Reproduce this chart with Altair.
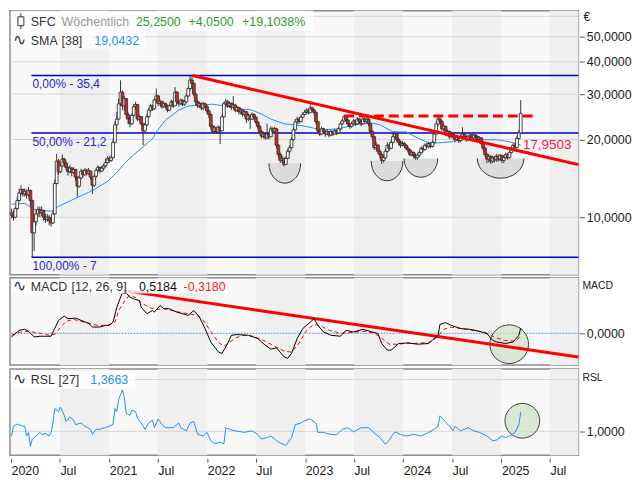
import altair as alt
import pandas as pd

FONT = "Liberation Sans"
W, HP, HM, HR = 573, 266, 88, 87

# ---------------- data ----------------
week0 = "2020-01-03"
first_open = 10.2
closes = [
    # 2020
    10.4, 10.0, 10.8, 11.6, 12.4, 12.8, 12.3, 12.6, 12.2, 12.7,
    11.6, 8.7, 9.6, 10.3, 10.7, 10.4, 10.6, 10.0, 9.8, 10.0,
    9.7, 9.5, 10.3, 13.5, 16.5, 15.0, 15.8, 16.8, 16.2, 15.6,
    15.0, 15.5, 14.9, 15.3, 14.3, 13.2, 14.2, 15.1, 14.6, 15.2,
    14.8, 15.1, 14.3, 13.3, 14.4, 15.2, 15.6, 15.1, 15.5, 15.8,
    16.3, 16.9,
    # 2021
    16.6, 17.0, 19.5, 22.8, 24.0, 27.5, 30.5, 27.0, 28.8, 25.0,
    24.0, 23.0, 24.8, 26.8, 27.3, 24.0, 24.5, 23.0, 21.6, 22.8,
    24.5, 26.0, 27.0, 26.3, 28.5, 29.5, 27.6, 28.0, 26.8, 27.5,
    27.0, 26.0, 27.0, 28.0, 27.0, 30.5, 28.0, 27.5, 28.4, 27.4,
    28.0, 29.5, 31.5, 34.0, 33.0, 30.0, 28.0, 27.0, 27.6, 26.5,
    27.5, 26.8,
    # 2022
    25.8, 25.0, 22.5, 21.5, 22.2, 21.4, 22.3, 21.6, 24.5, 27.5,
    28.0, 27.0, 27.6, 26.6, 27.2, 26.0, 26.6, 25.6, 26.0, 25.0,
    25.6, 24.0, 24.8, 24.0, 25.0, 24.4, 23.4, 22.5, 21.5, 20.6,
    21.0, 20.3, 21.0, 20.5, 22.0, 21.5, 22.0, 19.0, 17.5, 16.6,
    16.9, 16.0, 16.9, 18.0, 18.6, 20.0, 21.8, 23.4, 24.0, 23.5,
    24.4, 25.0,
    # 2023
    25.5, 26.0, 25.4, 26.5, 26.0, 25.5, 23.5, 21.6, 21.0, 22.0,
    21.5, 21.0, 21.5, 20.8, 21.5, 21.0, 21.6, 21.2, 22.0, 23.0,
    23.6, 24.5, 23.8, 23.0, 22.5, 23.0, 23.6, 23.0, 24.0, 23.5,
    23.0, 24.0, 23.5, 24.0, 23.0, 21.5, 20.5, 18.6, 19.0, 18.0,
    17.5, 16.6, 17.0, 18.0, 19.0, 18.5, 19.5, 20.5, 21.0, 20.0,
    19.5, 19.0,
    # 2024
    19.3, 19.0, 18.5, 18.2, 17.5, 17.8, 17.3, 17.0, 17.4, 17.8,
    18.5, 18.3, 19.0, 18.8, 19.3, 18.8, 19.5, 21.0, 23.0, 24.0,
    23.5, 22.0, 22.5, 21.0, 21.5, 20.5, 21.0, 20.5, 20.0, 20.5,
    19.8, 20.5, 21.0, 20.5, 20.0, 20.5, 20.8, 20.3, 20.8, 20.5,
    20.0, 20.3, 19.3, 18.5, 17.5, 16.8, 17.2, 16.5, 17.0, 16.7,
    17.2, 16.8,
    # 2025
    17.3, 16.6, 17.0, 17.5, 17.0, 17.8, 18.5, 19.0, 18.6, 20.2,
    21.2, 25.25,
]
highs = [
    10.8, 10.6, 11.0, 12.0, 12.9, 13.3, 12.9, 12.9, 12.8, 13.1,
    12.8, 11.7, 10.2, 10.7, 11.0, 11.0, 11.0, 10.7, 10.3, 10.3,
    10.2, 10.0, 10.6, 14.0, 17.6, 16.8, 16.2, 17.5, 17.0, 16.5,
    15.8, 15.9, 15.6, 15.6, 15.4, 14.4, 14.5, 15.4, 15.3, 15.5,
    15.4, 15.5, 15.2, 14.4, 14.7, 15.5, 15.9, 15.7, 15.8, 16.1,
    16.8, 17.2,
    17.3, 17.4, 20.2, 23.5, 25.5, 28.7, 33.9, 31.0, 29.5, 28.9,
    25.5, 24.5, 25.2, 27.5, 28.0, 27.5, 25.0, 24.7, 23.2, 23.2,
    25.0, 26.5, 27.5, 27.3, 29.0, 31.5, 29.8, 28.6, 28.3, 28.0,
    27.8, 27.2, 27.4, 28.6, 28.3, 31.9, 30.8, 28.4, 28.8, 28.6,
    28.5, 30.0, 32.0, 35.4, 35.0, 33.2, 30.2, 28.5, 28.0, 27.8,
    28.0, 27.8,
    27.2, 26.2, 25.2, 22.8, 22.6, 22.4, 22.7, 22.5, 25.0, 28.0,
    28.8, 28.5, 28.0, 27.8, 29.5, 27.5, 27.0, 26.8, 26.4, 26.2,
    26.0, 25.8, 25.2, 25.0, 25.5, 25.3, 24.6, 23.6, 22.8, 21.8,
    21.4, 21.2, 23.0, 21.3, 22.5, 22.3, 22.4, 22.2, 19.2, 17.8,
    17.3, 17.0, 17.2, 18.4, 19.0, 20.4, 22.4, 24.0, 24.5, 24.3,
    24.8, 25.5,
    26.0, 26.4, 26.3, 27.4, 26.8, 26.3, 25.6, 23.6, 21.8, 22.4,
    22.2, 21.7, 21.9, 21.6, 21.8, 21.6, 22.0, 21.8, 22.3, 23.4,
    24.0, 25.0, 24.8, 24.0, 23.2, 23.4, 24.0, 23.8, 24.4, 24.2,
    23.8, 24.4, 24.3, 24.5, 24.2, 23.2, 21.8, 20.7, 19.6, 19.2,
    18.3, 17.7, 17.4, 18.4, 19.5, 19.3, 19.9, 21.2, 21.5, 21.2,
    20.3, 19.8,
    19.8, 19.6, 19.2, 18.8, 18.4, 18.2, 18.0, 17.6, 17.7, 18.1,
    18.8, 18.8, 19.3, 19.4, 19.6, 19.5, 19.8, 21.4, 23.5, 24.9,
    24.6, 23.8, 23.0, 22.6, 21.9, 21.7, 21.4, 21.2, 20.8, 20.9,
    20.7, 20.9, 22.3, 21.3, 20.8, 20.9, 21.2, 21.0, 21.1, 21.0,
    20.7, 20.6, 20.4, 19.5, 18.7, 17.8, 17.6, 17.4, 17.3, 17.3,
    17.6, 17.5,
    17.6, 17.5, 17.4, 17.8, 17.7, 18.1, 18.8, 19.3, 19.5, 20.6,
    21.8, 28.4,
]
lows = [
    9.9, 9.7, 9.9, 10.7, 11.5, 12.2, 12.0, 12.0, 11.8, 12.0,
    11.0, 7.0, 7.4, 9.3, 10.0, 10.0, 10.1, 9.7, 9.5, 9.6,
    9.3, 9.2, 9.4, 10.2, 13.4, 14.6, 14.8, 15.6, 15.8, 15.2,
    14.5, 14.8, 14.4, 14.7, 13.9, 12.0, 13.0, 14.0, 14.3, 14.5,
    14.5, 14.6, 14.0, 12.3, 13.1, 14.2, 15.0, 14.8, 15.0, 15.2,
    15.6, 16.1,
    16.2, 16.4, 16.9, 19.3, 22.0, 23.8, 27.0, 26.0, 25.8, 24.2,
    23.0, 22.3, 22.8, 24.5, 26.0, 23.5, 23.5, 22.6, 19.0, 21.2,
    22.5, 24.2, 25.5, 25.8, 26.0, 28.0, 27.0, 27.0, 26.3, 26.5,
    26.4, 25.5, 25.8, 26.8, 26.5, 27.0, 27.4, 26.8, 27.2, 26.9,
    27.0, 27.8, 29.2, 31.0, 31.5, 29.5, 27.2, 26.5, 26.5, 26.0,
    26.0, 26.3,
    25.2, 24.3, 22.0, 21.0, 21.2, 21.0, 21.0, 19.2, 21.5, 24.3,
    27.0, 26.5, 26.6, 26.0, 26.4, 25.5, 25.6, 25.0, 25.0, 24.5,
    24.6, 23.2, 23.6, 22.0, 23.8, 23.8, 23.0, 22.0, 21.0, 20.2,
    20.2, 20.0, 20.1, 20.0, 20.4, 21.0, 21.2, 18.5, 17.0, 16.2,
    16.2, 15.7, 15.9, 16.8, 17.6, 18.4, 19.8, 21.6, 23.0, 23.0,
    23.3, 24.2,
    24.8, 25.2, 25.0, 25.3, 25.5, 25.0, 23.0, 21.0, 20.6, 20.8,
    21.0, 20.5, 20.8, 20.4, 20.6, 20.6, 20.9, 20.8, 21.0, 21.8,
    22.8, 23.4, 23.4, 22.5, 22.0, 22.2, 22.8, 22.6, 22.8, 23.0,
    22.5, 22.8, 23.0, 23.2, 22.6, 21.0, 20.0, 18.2, 18.3, 17.6,
    17.0, 16.1, 16.3, 16.8, 17.8, 18.1, 18.3, 19.3, 20.2, 19.6,
    19.0, 18.6,
    18.8, 18.6, 18.2, 17.8, 17.2, 17.2, 16.9, 16.7, 16.7, 17.1,
    17.6, 17.9, 18.1, 18.4, 18.5, 18.5, 18.6, 19.3, 20.8, 22.6,
    23.0, 21.6, 21.5, 20.6, 20.6, 20.1, 20.2, 20.0, 19.5, 19.8,
    19.4, 19.5, 20.2, 20.1, 19.6, 19.7, 20.2, 19.9, 20.0, 20.1,
    19.6, 19.7, 19.0, 18.1, 17.1, 16.2, 16.3, 16.1, 16.2, 16.3,
    16.4, 16.4,
    16.5, 16.2, 16.2, 16.8, 16.7, 16.9, 17.6, 18.3, 18.2, 18.5,
    19.9, 21.0,
]

sma_weeks = [0, 7, 12, 21, 25, 34, 41, 44, 51, 56, 60, 65, 70, 75, 77, 82, 89, 94,
             100, 107, 114, 120, 128, 133, 138, 145, 150, 155, 165, 174, 183, 191,
             196, 203, 210, 217, 223, 234, 240, 249, 258, 265, 271]
sma_values = [11.22, 11.32, 10.73, 10.55, 11.02, 11.83, 12.48, 12.81, 13.75, 14.89,
              16.13, 17.46, 18.75, 20.12, 21.4, 23.8, 26.0, 26.95, 27.2, 27.4, 26.95,
              26.4, 26.0, 25.1, 24.0, 23.0, 22.8, 22.6, 21.8, 22.0, 22.8, 23.2, 22.8,
              21.4, 21.4, 20.1, 19.3, 19.6, 19.96, 19.96, 19.96, 19.6, 19.04]

macd_weeks = [0, 4, 7, 9, 10, 12, 15, 18, 21, 23, 25, 28, 30, 34, 37, 41, 43, 47, 50,
              52, 54, 56, 59, 60, 63, 65, 68, 69, 72, 75, 76, 79, 81, 84, 88, 91, 94,
              97, 100, 103, 106, 110, 112, 115, 117, 120, 126, 131, 135, 138, 141,
              145, 147, 149, 152, 155, 159, 161, 163, 166, 170, 175, 178, 182, 187,
              192, 195, 197, 200, 202, 206, 211, 216, 222, 224, 227, 228, 231, 234,
              239, 244, 249, 253, 256, 258, 263, 267, 270, 271]
macd_values = [-0.37, 0.3, 0.4, 0.2, 0.0, -0.37, -0.3, -0.3, -0.3, 0.5, 1.3, 1.73,
               1.47, 1.53, 1.3, 1.0, 0.63, 0.63, 0.8, 0.8, 1.13, 2.63, 4.13, 4.3, 3.63,
               3.47, 3.3, 2.63, 1.97, 2.3, 2.13, 2.8, 2.47, 2.47, 2.13, 1.97, 1.8, 2.3,
               1.63, 0.47, -0.87, -1.87, -2.03, -1.03, -0.2, -0.13, -0.2, -0.53, -1.2,
               -1.6, -1.47, -2.37, -2.53, -2.03, -0.53, 0.47, 1.13, 1.47, 0.8, 0.13,
               -0.2, -0.3, 0.3, 0.13, 0.4, 0.13, -0.03, -1.03, -1.7, -1.7, -1.03,
               -0.97, -1.1, -1.03, -0.7, -0.2, 0.9, 1.07, 0.8, 0.47, 0.4, 0.2, -0.03,
               -0.7, -0.87, -1.03, -0.87, -0.2, 0.53]

signal_weeks = [0, 4, 9, 15, 20, 23, 26, 29, 33, 37, 41, 46, 51, 55, 57, 61, 63, 66, 69,
                73, 77, 81, 85, 90, 96, 99, 102, 106, 110, 113, 116, 120, 124, 129,
                135, 140, 145, 149, 153, 157, 161, 165, 169, 175, 182, 188, 193, 197,
                201, 206, 210, 217, 222, 226, 230, 234, 239, 245, 252, 257, 262, 268,
                271]
signal_values = [-0.2, 0.1, 0.2, 0.0, -0.2, -0.1, 0.6, 1.2, 1.4, 1.2, 1.0, 0.8, 0.8,
                 1.1, 2.3, 3.5, 3.8, 3.6, 3.1, 2.6, 2.4, 2.5, 2.3, 2.1, 1.9, 1.8, 1.3,
                 0.2, -0.9, -1.3, -0.9, -0.4, -0.2, -0.3, -0.8, -1.3, -1.8, -1.9, -1.0,
                 0.3, 0.9, 0.7, 0.3, 0.0, 0.1, 0.2, 0.0, -0.5, -1.1, -1.1, -1.0, -1.0,
                 -0.9, -0.5, 0.4, 0.6, 0.5, 0.3, 0.1, -0.4, -0.7, -0.8, -0.3]

rsl_weeks = [0, 1, 3, 6, 7, 8, 9, 10, 11, 13, 15, 16, 18, 20, 21, 22, 23, 25, 26, 28,
             29, 31, 33, 34, 37, 39, 42, 43, 45, 47, 50, 52, 54, 55, 56, 57, 59, 60,
             61, 63, 64, 66, 67, 69, 71, 73, 75, 76, 78, 80, 82, 86, 89, 90, 93, 95,
             97, 99, 102, 104, 106, 108, 111, 113, 114, 116, 119, 124, 128, 131, 133,
             136, 138, 140, 142, 146, 149, 151, 154, 155, 159, 162, 163, 166, 170,
             173, 176, 179, 182, 186, 190, 194, 196, 199, 201, 203, 204, 207, 210,
             214, 218, 222, 225, 227, 228, 230, 233, 235, 236, 239, 243, 246, 249,
             253, 256, 258, 261, 263, 266, 268, 270, 271]
rsl_values = [0.91, 1.10, 1.14, 1.10, 1.10, 0.91, 0.98, 0.71, 0.85, 0.91, 0.98, 0.94,
              0.96, 0.91, 0.98, 1.16, 1.44, 1.38, 1.47, 1.31, 1.19, 1.28, 1.22, 1.13,
              1.16, 1.10, 1.04, 0.94, 1.04, 1.04, 1.07, 1.10, 1.13, 1.44, 1.38, 1.62,
              1.80, 1.65, 1.35, 1.31, 1.41, 1.38, 1.25, 1.16, 1.04, 1.16, 1.22, 1.07,
              1.24, 1.13, 1.07, 1.07, 1.16, 1.07, 1.01, 1.16, 1.19, 0.94, 0.91, 0.98,
              0.82, 0.76, 0.79, 0.76, 1.07, 1.04, 1.01, 0.98, 1.01, 0.94, 0.85, 0.88,
              0.91, 0.85, 0.79, 0.73, 0.88, 1.13, 1.16, 1.19, 1.24, 1.16, 0.98, 0.98,
              0.94, 0.93, 1.04, 1.07, 0.99, 1.07, 1.07, 0.94, 0.88, 0.75, 0.83, 0.94,
              0.99, 0.94, 0.91, 0.94, 0.91, 0.98, 1.04, 1.10, 1.30, 1.22, 1.10, 1.01,
              1.10, 1.01, 1.07, 1.01, 0.98, 0.91, 0.82, 0.83, 0.91, 0.88, 0.93, 0.98,
              1.13, 1.37]

fib_levels = [35.4, 21.2, 7.0]
fib_labels = ["0,00% - 35,4", "50,00% - 21,2", "100,00% - 7"]
fib_start = "2020-03-17"
x_end = "2025-10-15"
trend_dates = ["2021-11-07", x_end]
trend_prices = [35.4, 15.98]
trend_label, trend_label_value, trend_label_date = "17,9503", 17.9503, "2025-03-15"
resist_dates = ["2023-05-26", "2025-04-30"]
resist_price = 24.66
bowl_dates = ["2022-10-17", "2023-11-02", "2024-03-07", "2024-12-29"]
bowl_tops = [16.17, 16.52, 16.90, 16.90]
macd_trend_dates = ["2021-02-24", x_end]
macd_trend_values = [4.3, -2.4]
macd_mark_date, macd_mark_value = "2025-01-30", -1.1
rsl_mark_date, rsl_mark_value = "2025-03-20", 1.204
price_ticks = [10, 20, 30, 40, 50]
price_grid = [10, 20, 30, 40, 50, 60]
rsl_grid = [1.0, 2.0]
band_years = [2020, 2021, 2022, 2023, 2024, 2025]

# ---------------- frames ----------------
def wk(weeks):
    return pd.to_datetime(week0) + pd.to_timedelta([7 * w for w in weeks], unit="D")

n = len(closes)
cdf = pd.DataFrame({"date": wk(range(n)), "open": [first_open] + closes[:-1],
                    "close": closes, "high": highs, "low": lows})
sma_df = pd.DataFrame({"date": wk(sma_weeks), "v": sma_values})
macd_df = pd.DataFrame({"date": wk(macd_weeks), "v": macd_values})
sig_df = pd.DataFrame({"date": wk(signal_weeks), "v": signal_values})
rsl_df = pd.DataFrame({"date": wk(rsl_weeks), "v": rsl_values})
END = pd.Timestamp(x_end)
band_df = pd.DataFrame({"s": [pd.Timestamp(f"{y}-07-01") for y in band_years],
                        "e": [min(pd.Timestamp(f"{y + 1}-01-01"), END) for y in band_years]})
fib_df = pd.DataFrame({"v": fib_levels, "t": fib_labels,
                       "s": [pd.Timestamp(fib_start)] * 3, "e": [END] * 3})
trend_df = pd.DataFrame({"date": pd.to_datetime(trend_dates), "v": trend_prices})
resist_df = pd.DataFrame({"s": [pd.Timestamp(resist_dates[0])],
                          "e": [pd.Timestamp(resist_dates[1])], "v": [resist_price]})
tl_df = pd.DataFrame({"date": [pd.Timestamp(trend_label_date)], "v": [trend_label_value],
                      "t": [trend_label]})
bowl_df = pd.DataFrame({"date": pd.to_datetime(bowl_dates), "v": bowl_tops})
mtrend_df = pd.DataFrame({"date": pd.to_datetime(macd_trend_dates), "v": macd_trend_values})
mmark_df = pd.DataFrame({"date": [pd.Timestamp(macd_mark_date)], "v": [macd_mark_value]})
rmark_df = pd.DataFrame({"date": [pd.Timestamp(rsl_mark_date)], "v": [rsl_mark_value]})
one = pd.DataFrame({"k": [0]})

# ---------------- scales & axes ----------------
XS = alt.Scale(domain=[alt.DateTime(year=2019, month=12, date=28),
                       alt.DateTime(year=2025, month=10, date=15)], nice=False, padding=0)
YP = alt.Scale(type="log", domain=[5.985, 63.0], nice=False, padding=0)
YM = alt.Scale(domain=[-3.2, 5.6], nice=False, zero=False, padding=0)
YR = alt.Scale(domain=[0.537, 2.204], nice=False, zero=False, padding=0)


def comma_axis(values):
    return alt.Axis(orient="right", values=values, grid=False, domain=False, tickSize=5,
                    offset=1, labelPadding=2, labelFontSize=12.5, title=None,
                    labelFont=FONT, labelColor="#1a1a1a", tickColor="#555555",
                    labelExpr="replace(format(datum.value, '.4f'), '.', ',')")


AX_P = comma_axis(price_ticks)
AX_M = comma_axis([0])
AX_R = comma_axis([1])
AX_X = alt.Axis(
    values=[alt.DateTime(year=y, month=m, date=1) for y in range(2020, 2026) for m in (1, 7)],
    labelExpr="month(datum.value) == 0 ? timeFormat(datum.value, '%Y') : 'Jul'",
    tickSize=4, offset=3, domain=False, grid=False, labelAlign="left", labelPadding=2,
    labelFlush=False, labelOverlap=False, labelBound=False, labelFontSize=12.5,
    labelFont=FONT, labelColor="#1a1a1a", tickColor="#555555", title=None)


def mk(ax_x, ax_y, yscale):
    """Encoders for one panel; every layer of a panel carries the same axis definition."""
    def xe(f="date"):
        return alt.X(f"{f}:T", scale=XS, axis=ax_x, title=None)

    def ye(f="v"):
        return alt.Y(f"{f}:Q", scale=yscale, axis=ax_y, title=None)
    return xe, ye


def text(txt, x, y, color="#333333", size=12.5, font=FONT):
    return alt.Chart(one).mark_text(text=txt, font=font, fontSize=size, color=color,
                                    align="left", baseline="alphabetic").encode(
        x=alt.value(x), y=alt.value(y))


def box(x1, x2, y1, y2):
    return alt.Chart(one).mark_rect(color="white", opacity=0.8).encode(
        x=alt.value(x1), x2=alt.value(x2), y=alt.value(y1), y2=alt.value(y2))


def wave(y):
    return text("\u223f", 3, y, color="#333333", size=16, font="DejaVu Sans")


def bands(xe, h):
    return alt.Chart(band_df).mark_rect(color="#efefef").encode(
        x=xe("s"), x2="e:T", y=alt.value(0), y2=alt.value(h))


GREEN = "#2e9e2e"
BLUE = "#1e90ff"

# ---------------- price panel ----------------
xe, ye = mk(None, AX_P, YP)
grid_p = alt.Chart(pd.DataFrame({"v": price_grid})).mark_rule(
    color="#d6d6d6", strokeWidth=1).encode(y=ye())
fib_lines = alt.Chart(fib_df).mark_rule(color="#0000cc", strokeWidth=1.5).encode(
    x=xe("s"), x2="e:T", y=ye())
fib_text = alt.Chart(fib_df).mark_text(align="left", baseline="top", dy=4, dx=1, font=FONT,
                                       fontSize=12, color="#2424d6").encode(
    x=xe("s"), y=ye(), text="t:N")

bowl_half = [16, 16, 17, 23.5]
bowl_depth = [20, 20, 19, 20]
bowl_layers = []
for i in range(len(bowl_dates)):
    d = bowl_depth[i] / bowl_half[i]
    k = 0.5523 * d
    arc = f"M -1 0 C -1 {k:.3f} -0.5523 {d:.3f} 0 {d:.3f} C 0.5523 {d:.3f} 1 {k:.3f} 1 0"
    size = (2 * bowl_half[i]) ** 2
    sub = bowl_df.iloc[[i]]
    bowl_layers.append(alt.Chart(sub).mark_point(
        shape=arc + " Z", size=size, filled=True, fill="#dcdcdc", opacity=1,
        strokeOpacity=0).encode(x=xe(), y=ye()))
    bowl_layers.append(alt.Chart(sub).mark_point(
        shape=arc, size=size, filled=False, stroke="#333333", strokeWidth=1,
        opacity=1).encode(x=xe(), y=ye()))

sma = alt.Chart(sma_df).mark_line(color=BLUE, strokeWidth=1).encode(x=xe(), y=ye())
wicks = alt.Chart(cdf).mark_rule(color="#333333", strokeWidth=1).encode(
    x=xe(), y=ye("low"), y2="high:Q")
bodies = alt.Chart(cdf).mark_bar(size=2.8, stroke="#333333", strokeWidth=0.9).encode(
    x=xe(), y=ye("open"), y2="close:Q",
    fill=alt.condition("datum.close >= datum.open", alt.value("#ffffff"),
                       alt.value("#d42a1e")))
trend = alt.Chart(trend_df).mark_line(color="#ff0000", strokeWidth=3).encode(
    x=xe(), y=ye())
resist = alt.Chart(resist_df).mark_rule(color="#ff0000", strokeWidth=3,
                                        strokeDash=[10, 5]).encode(
    x=xe("s"), x2="e:T", y=ye())
tl_text = alt.Chart(tl_df).mark_text(align="left", baseline="middle", dx=2, dy=-7,
                                     font=FONT, fontSize=13.5, color="#ff1744").encode(
    x=xe(), y=ye(), text="t:N")

icon_wick = alt.Chart(one).mark_rule(color="#333333", strokeWidth=1).encode(
    x=alt.value(11), y=alt.value(2.5), y2=alt.value(18.5))
icon_body = alt.Chart(one).mark_rect(fill="white", stroke="#333333", strokeWidth=1).encode(
    x=alt.value(8), x2=alt.value(14), y=alt.value(6), y2=alt.value(15))

price = alt.layer(
    bands(xe, HP), grid_p, *bowl_layers, fib_lines, fib_text, sma, wicks, bodies, trend,
    resist, tl_text,
    box(1, 306, 0, 20), box(1, 136, 20, 38),
    icon_wick, icon_body,
    text("SFC", 21, 15), text("W\u00f6chentlich", 52, 15, "#9a9a9a"),
    text("25,2500", 127, 15, GREEN), text("+4,0500", 180, 15, GREEN),
    text("+19,1038%", 234, 15, GREEN),
    wave(34), text("SMA", 21, 34), text("[38]", 52, 34), text("19,0432", 85, 34, BLUE),
    text("\u20ac", W + 5, 10, "#222222", 12),
).properties(width=W, height=HP)

# ---------------- MACD panel ----------------
xe, ye = mk(None, AX_M, YM)
zero_grid = alt.Chart(pd.DataFrame({"v": [0.0]})).mark_rule(
    color="#d6d6d6", strokeWidth=1).encode(y=ye())
zero_dot = alt.Chart(pd.DataFrame({"v": [0.0]})).mark_rule(
    color=BLUE, strokeWidth=1, strokeDash=[1, 2]).encode(y=ye())
mcirc = alt.Chart(mmark_df).mark_point(shape="circle", size=1521, filled=True,
                                       fill="#cfe0c6", fillOpacity=0.7, stroke="#404040",
                                       strokeWidth=1, opacity=1).encode(x=xe(), y=ye())
mtrend = alt.Chart(mtrend_df).mark_line(color="#ff0000", strokeWidth=3).encode(
    x=xe(), y=ye())
sig = alt.Chart(sig_df).mark_line(color="#ff0000", strokeWidth=1,
                                  strokeDash=[4, 3]).encode(x=xe(), y=ye())
macd_line = alt.Chart(macd_df).mark_line(color="#000000", strokeWidth=1).encode(
    x=xe(), y=ye())

macd = alt.layer(
    bands(xe, HM), zero_grid, zero_dot, mcirc, mtrend, sig, macd_line,
    box(1, 219, 2, 16), wave(13), text("MACD", 21, 13), text("[12, 26, 9]", 62, 13),
    text("0,5184", 130, 13, "#111111"), text("-0,3180", 175, 13, "#ff2020"),
    text("MACD", W + 4, 11, "#222222", 10.5),
).properties(width=W, height=HM)

# ---------------- RSL panel ----------------
xe, ye = mk(AX_X, AX_R, YR)
grid_r = alt.Chart(pd.DataFrame({"v": rsl_grid})).mark_rule(
    color="#d6d6d6", strokeWidth=1).encode(y=ye())
rcirc = alt.Chart(rmark_df).mark_point(shape="circle", size=1225, filled=True,
                                       fill="#cfe0c6", fillOpacity=0.7, stroke="#404040",
                                       strokeWidth=1, opacity=1).encode(x=xe(), y=ye())
rsl_line = alt.Chart(rsl_df).mark_line(color=BLUE, strokeWidth=1).encode(x=xe(), y=ye())

rsl = alt.layer(
    bands(xe, HR), grid_r, rcirc, rsl_line,
    box(1, 126, 2, 20), wave(15), text("RSL", 21, 15), text("[27]", 49, 15),
    text("1,3663", 81, 15, BLUE),
    text("RSL", W + 4, 12, "#222222", 10.5),
).properties(width=W, height=HR)

chart = alt.vconcat(price, macd, rsl, spacing=1).properties(
    padding={"left": 0, "top": 0, "right": 0, "bottom": 0}
).configure_view(
    stroke="#8c8c8c", strokeWidth=1.5, fill="#f8f8f8"
)

chart.save("out.html", embed_options={"renderer": "svg", "actions": False})
